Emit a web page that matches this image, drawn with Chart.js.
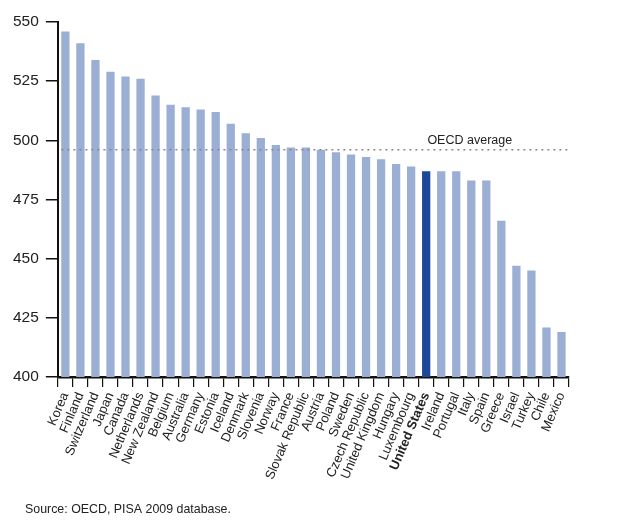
<!DOCTYPE html>
<html>
<head>
<meta charset="utf-8">
<script src="https://cdn.jsdelivr.net/npm/chart.js@4/dist/chart.umd.min.js"></script>
<style>
html,body{margin:0;padding:0;background:#fff;}
#wrap{width:621px;height:524px;position:relative;}
</style>
</head>
<body>
<div id="wrap"><canvas id="c" width="621" height="524"></canvas></div>
<script>
const countries = ["Korea","Finland","Switzerland","Japan","Canada","Netherlands","New Zealand","Belgium","Australia","Germany","Estonia","Iceland","Denmark","Slovenia","Norway","France","Slovak Republic","Austria","Poland","Sweden","Czech Republic","United Kingdom","Hungary","Luxembourg","United States","Ireland","Portugal","Italy","Spain","Greece","Israel","Turkey","Chile","Mexico"];
const scores = [546,541,534,529,527,526,519,515,514,513,512,507,503,501,498,497,497,496,495,494,493,492,490,489,487,487,487,483,483,466,447,445,421,419];
const oecdAverage = 496;
const yTicks = [400,425,450,475,500,525,550];
const highlight = "United States";
const sourceNote = "Source: OECD, PISA 2009 database.";
const avgLabel = "OECD average";

const FONT = "'Liberation Sans', Arial, sans-serif";
const LIGHT = "rgb(155,174,212)";
const DARK = "rgb(29,72,152)";

const extras = {
  id: 'extras',
  afterDatasetsDraw(chart) {
    const {ctx, scales} = chart;
    const x = scales.x, y = scales.y;
    const yp = y.getPixelForValue(oecdAverage);
    const x0 = x.getPixelForValue(0) - 4;
    const x1 = x.getPixelForValue(countries.length - 1) + 6;
    ctx.save();
    ctx.strokeStyle = "#888";
    ctx.lineWidth = 1.5;
    ctx.setLineDash([2, 4]);
    ctx.beginPath();
    ctx.moveTo(x0, yp);
    ctx.lineTo(x1, yp);
    ctx.stroke();
    ctx.setLineDash([]);
    ctx.fillStyle = "#222";
    ctx.font = "12.5px " + FONT;
    ctx.textAlign = "center";
    ctx.textBaseline = "bottom";
    ctx.fillText(avgLabel, x.getPixelForValue(26.9), yp - 3);
    ctx.restore();
  },
  afterDraw(chart) {
    const {ctx} = chart;
    ctx.save();
    ctx.fillStyle = "#222";
    ctx.font = "12.4px " + FONT;
    ctx.textAlign = "left";
    ctx.textBaseline = "middle";
    ctx.fillText(sourceNote, 25, 510);
    ctx.restore();
  }
};

new Chart(document.getElementById('c'), {
  type: 'bar',
  data: {
    labels: countries,
    datasets: [{
      data: scores,
      backgroundColor: countries.map(c => c === highlight ? DARK : LIGHT),
      barPercentage: 0.55,
      categoryPercentage: 1.0,
      borderWidth: 0
    }]
  },
  options: {
    responsive: false,
    animation: false,
    devicePixelRatio: 1,
    layout: { padding: { left: 6, right: 52, top: 22, bottom: 39 } },
    plugins: { legend: { display: false }, tooltip: { enabled: false } },
    scales: {
      y: {
        min: 400, max: 550,
        afterBuildTicks: s => { s.ticks = yTicks.map(v => ({value: v})); },
        border: { display: true, color: "#111", width: 2 },
        grid: { drawOnChartArea: false, drawTicks: true, tickLength: 12, color: "#111", lineWidth: 1.5 },
        ticks: { color: "#222", font: { size: 15.5, family: FONT }, padding: 7 }
      },
      x: {
        border: { display: true, color: "#111", width: 2.5 },
        grid: { offset: true, drawOnChartArea: false, drawTicks: true, tickLength: 10, color: "#111", lineWidth: 1.2 },
        ticks: {
          color: "#222",
          minRotation: 67, maxRotation: 67,
          autoSkip: false,
          padding: 3,
          font: (ctx) => ({ size: 13, family: FONT, weight: (countries[ctx.index] === highlight) ? 'bold' : 'normal' })
        }
      }
    }
  },
  plugins: [extras]
});
</script>
</body>
</html>
